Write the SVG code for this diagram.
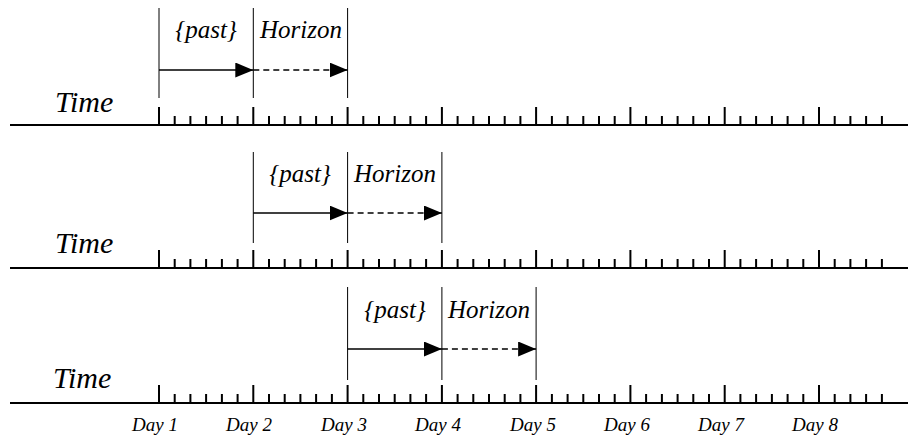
<svg xmlns="http://www.w3.org/2000/svg" xmlns:xlink="http://www.w3.org/1999/xlink" width="909" height="438" viewBox="0 0 909 438">
<style>
  .t { font-family: 'Liberation Serif', 'DejaVu Serif', serif; font-style: italic; fill: #000; }
  .time { font-size: 30px; }
  .lbl { font-size: 25px; text-anchor: middle; }
  .day { font-size: 19px; text-anchor: middle; }
  .axis { stroke: #000; stroke-width: 2; fill: none; }
  .tick { stroke: #000; stroke-width: 2; fill: none; }
  .bound { stroke: #000; stroke-width: 1; fill: none; }
  .past { stroke: #000; stroke-width: 1.3; fill: none; marker-end: url(#head); }
  .hor { stroke: #000; stroke-width: 1.3; fill: none; stroke-dasharray: 6 4; marker-end: url(#head); }
</style>
<defs>
  <marker id="head" markerUnits="userSpaceOnUse" viewBox="0 0 18 15" refX="18" refY="7.5" markerWidth="18" markerHeight="15" orient="auto">
    <path d="M0,0 L18,7.5 L0,15 Z" fill="#000"/>
  </marker>
  <g id="scale">
    <line class="axis" x1="10" y1="0" x2="908" y2="0"/>
    <path class="tick" d="M159,0V-18 M253.3,0V-18 M347.6,0V-18 M441.9,0V-18 M536.1,0V-18 M630.4,0V-18 M724.7,0V-18 M819,0V-18"/>
    <path class="tick" d="M174.7,0V-9 M190.4,0V-9 M206.1,0V-9 M221.9,0V-9 M237.6,0V-9
      M269,0V-9 M284.7,0V-9 M300.4,0V-9 M316.1,0V-9 M331.9,0V-9
      M363.3,0V-9 M379,0V-9 M394.7,0V-9 M410.4,0V-9 M426.1,0V-9
      M457.6,0V-9 M473.3,0V-9 M489,0V-9 M504.7,0V-9 M520.4,0V-9
      M551.9,0V-9 M567.6,0V-9 M583.3,0V-9 M599,0V-9 M614.7,0V-9
      M646.1,0V-9 M661.9,0V-9 M677.6,0V-9 M693.3,0V-9 M709,0V-9
      M740.4,0V-9 M756.1,0V-9 M771.9,0V-9 M787.6,0V-9 M803.3,0V-9
      M834.7,0V-9 M850.4,0V-9 M866.1,0V-9 M881.9,0V-9"/>
  </g>
</defs>

<g id="timeline1">
  <use xlink:href="#scale" href="#scale" transform="translate(0,125)"/>
  <text class="t time" x="55" y="112" font-family="Liberation Serif, serif">Time</text>
  <line class="bound" x1="159" y1="8" x2="159" y2="98"/>
  <line class="bound" x1="253.3" y1="8" x2="253.3" y2="98"/>
  <line class="bound" x1="347.6" y1="8" x2="347.6" y2="98"/>
  <text class="t lbl" x="206" y="38" font-family="Liberation Serif, serif">{past}</text>
  <text class="t lbl" x="301" y="38" font-family="Liberation Serif, serif">Horizon</text>
</g>

<g id="timeline2">
  <use xlink:href="#scale" href="#scale" transform="translate(0,268)"/>
  <text class="t time" x="55" y="253" font-family="Liberation Serif, serif">Time</text>
  <line class="bound" x1="253.3" y1="152" x2="253.3" y2="243"/>
  <line class="bound" x1="347.6" y1="152" x2="347.6" y2="243"/>
  <line class="bound" x1="441.9" y1="152" x2="441.9" y2="243"/>
  <text class="t lbl" x="300" y="182" font-family="Liberation Serif, serif">{past}</text>
  <text class="t lbl" x="395" y="182" font-family="Liberation Serif, serif">Horizon</text>
</g>

<g id="timeline3">
  <use xlink:href="#scale" href="#scale" transform="translate(0,403)"/>
  <text class="t time" x="53" y="388" font-family="Liberation Serif, serif">Time</text>
  <line class="bound" x1="347.6" y1="287" x2="347.6" y2="380"/>
  <line class="bound" x1="441.9" y1="287" x2="441.9" y2="380"/>
  <line class="bound" x1="536.1" y1="287" x2="536.1" y2="380"/>
  <text class="t lbl" x="395" y="318" font-family="Liberation Serif, serif">{past}</text>
  <text class="t lbl" x="489" y="318" font-family="Liberation Serif, serif">Horizon</text>
</g>

<g id="day-labels">
  <text class="t day" x="155" y="431" font-family="Liberation Serif, serif">Day 1</text>
  <text class="t day" x="249" y="431" font-family="Liberation Serif, serif">Day 2</text>
  <text class="t day" x="344" y="431" font-family="Liberation Serif, serif">Day 3</text>
  <text class="t day" x="438" y="431" font-family="Liberation Serif, serif">Day 4</text>
  <text class="t day" x="533" y="431" font-family="Liberation Serif, serif">Day 5</text>
  <text class="t day" x="627" y="431" font-family="Liberation Serif, serif">Day 6</text>
  <text class="t day" x="721" y="431" font-family="Liberation Serif, serif">Day 7</text>
  <text class="t day" x="815" y="431" font-family="Liberation Serif, serif">Day 8</text>
</g>

<g id="connectors">
  <line class="past" x1="159" y1="70" x2="253.3" y2="70"/>
  <line class="hor" x1="253.3" y1="70" x2="347.6" y2="70"/>
  <line class="past" x1="253.3" y1="213" x2="347.6" y2="213"/>
  <line class="hor" x1="347.6" y1="213" x2="441.9" y2="213"/>
  <line class="past" x1="347.6" y1="349" x2="441.9" y2="349"/>
  <line class="hor" x1="441.9" y1="349" x2="536.1" y2="349"/>
</g>
</svg>
